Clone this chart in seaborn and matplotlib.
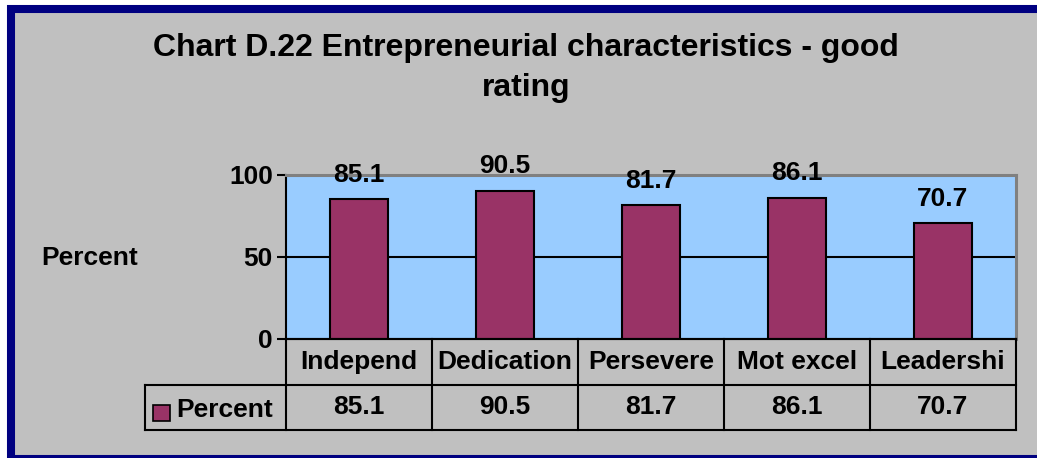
import matplotlib
matplotlib.use("Agg")
import matplotlib.pyplot as plt
from matplotlib.patches import Rectangle
from matplotlib.lines import Line2D
import seaborn as sns
import pandas as pd

# Chart data
categories = ["Independ", "Dedication", "Persevere", "Mot excel", "Leadershi"]
percent = [85.1, 90.5, 81.7, 86.1, 70.7]
series_name = "Percent"
title = "Chart D.22 Entrepreneurial characteristics - good\nrating"
y_ticks = [0, 50, 100]

W, H = 1037, 458
BG = "#C0C0C0"
PLOT_BG = "#99CCFF"
BAR = "#993366"
NAVY = "#000080"
FS = 19

sns.set_theme(style="white")
plt.rcParams["font.family"] = ["Liberation Sans", "DejaVu Sans"]
plt.rcParams["font.weight"] = "bold"
plt.rcParams["text.color"] = "black"
plt.rcParams["ytick.color"] = "black"
plt.rcParams["ytick.labelcolor"] = "black"

fig = plt.figure(figsize=(W / 100, H / 100), dpi=100, facecolor="white",
                 edgecolor="none", linewidth=0)


def fx(px):
    return px / W


def fy(py):
    return 1 - py / H


# Outer frame: grey panel, navy border on left, top and bottom
fig.add_artist(Rectangle((fx(7), fy(458)), 1.2, fy(5) - fy(458), transform=fig.transFigure,
                         facecolor=BG, edgecolor="none", linewidth=0, zorder=0))
border = dict(color=NAVY, linewidth=5.8, transform=fig.transFigure, zorder=0.5,
              solid_capstyle="butt")
fig.add_artist(Line2D([fx(10.5), fx(10.5)], [fy(5), fy(470)], **border))
fig.add_artist(Line2D([fx(7), 1.1], [fy(9), fy(9)], **border))
fig.add_artist(Line2D([fx(7), 1.1], [fy(459), fy(459)], **border))


def px_axes(x0, y0, x1, y1):
    """Create axes from pixel box (top-left origin)."""
    return fig.add_axes([x0 / W, (H - y1) / H, (x1 - x0) / W, (y1 - y0) / H])


# Plot area
ax = px_axes(286, 175, 1016, 339)
ax.set_facecolor(PLOT_BG)

df = pd.DataFrame({"category": categories, "value": percent})
sns.barplot(data=df, x="category", y="value", color=BAR, saturation=1,
            width=0.4, edgecolor="black", linewidth=1.5, ax=ax, zorder=3)

ax.set_xlim(-0.5, len(categories) - 0.5)
ax.set_ylim(0, 100)
ax.set_yticks(y_ticks)
ax.set_yticklabels([str(t) for t in y_ticks], fontsize=FS, fontweight="bold", color="black")
ax.tick_params(axis="y", left=True, length=6.5, width=1.5, color="black", pad=3)
ax.tick_params(axis="x", bottom=False, labelbottom=False)
ax.set_xlabel("")
ax.set_ylabel("")
ax.axhline(50, color="black", linewidth=1.5, zorder=1)

for side in ("left", "bottom"):
    ax.spines[side].set_color("black")
    ax.spines[side].set_linewidth(1.5)
for side in ("top", "right"):
    ax.spines[side].set_color("#808080")
    ax.spines[side].set_linewidth(2.2)

for container in ax.containers:
    ax.bar_label(container, labels=[f"{v:.1f}" for v in percent], padding=9,
                 fontsize=FS, fontweight="bold", color="black")

# Data table below the plot area
n = len(categories)
cat_w = 730 / n
left_x = -0.5 - (286 - 145) / cat_w
tax = px_axes(145, 339, 1016, 430)
tax.set_xlim(left_x, n - 0.5)
tax.set_ylim(0, 2)
tax.axis("off")
tax.patch.set_alpha(0)

lw = 1.5
kw = dict(color="black", linewidth=lw, solid_capstyle="projecting", clip_on=False)
tax.plot([-0.5, n - 0.5], [2, 2], **kw)
tax.plot([left_x, n - 0.5], [1, 1], **kw)
tax.plot([left_x, n - 0.5], [0, 0], **kw)
tax.plot([left_x, left_x], [0, 1], **kw)
for k in range(n + 1):
    tax.plot([k - 0.5, k - 0.5], [0, 2], **kw)

for i, (cat, val) in enumerate(zip(categories, percent)):
    tax.text(i, 1.5, cat, ha="center", va="center", fontsize=FS, fontweight="bold", color="black")
    tax.text(i, 0.5, f"{val:.1f}", ha="center", va="center", fontsize=FS, fontweight="bold",
             color="black")

# Legend key inside the row header cell
key_ax = px_axes(145, 386, 286, 430)
key_ax.set_xlim(0, 141)
key_ax.set_ylim(44, 0)
key_ax.axis("off")
key_ax.add_patch(Rectangle((8, 19), 17, 16, facecolor=BAR, edgecolor="black", linewidth=1.2))
key_ax.text(31, 24, series_name, ha="left", va="center", fontsize=FS, fontweight="bold",
            color="black")

# Titles
fig.text(526 / W, 1 - 68 / H, title, ha="center", va="center", fontsize=23,
         fontweight="bold", linespacing=1.4, color="black")
fig.text(90 / W, 1 - 258 / H, series_name, ha="center", va="center", fontsize=FS,
         fontweight="bold", color="black")

fig.savefig("out.png", dpi=100, facecolor="white", edgecolor="none")
